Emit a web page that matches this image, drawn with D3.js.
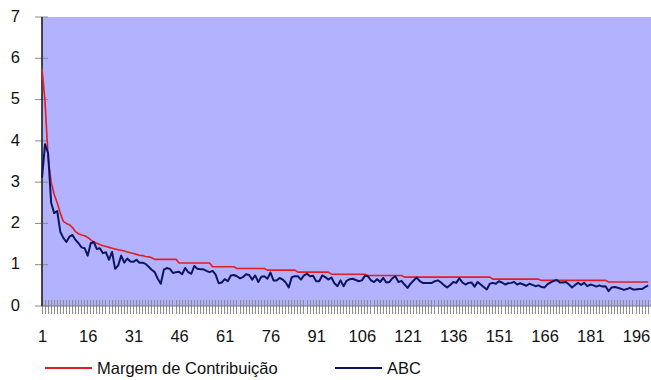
<!DOCTYPE html>
<html>
<head>
<meta charset="utf-8">
<script src="https://cdn.jsdelivr.net/npm/d3@7"></script>
<style>
  html, body { margin: 0; padding: 0; background: #ffffff; }
  svg { display: block; font-family: "Liberation Sans", Arial, sans-serif; }
</style>
</head>
<body>
<svg id="chart" width="651" height="380"></svg>
<script>
// Series names
const seriesNames = ["Margem de Contribuição", "ABC"];

// Margem de Contribuição (points 1..200)
const margem = [
  5.75, 4.95, 3.60, 3.00, 2.70, 2.50, 2.25, 2.05, 2.00, 1.97,
  1.90, 1.80, 1.75, 1.72, 1.70, 1.66, 1.60, 1.55, 1.52, 1.49,
  1.46, 1.44, 1.42, 1.40, 1.38, 1.36, 1.35, 1.33, 1.31, 1.29,
  1.27, 1.25, 1.23, 1.22, 1.20, 1.19, 1.17, 1.13, 1.13, 1.13,
  1.13, 1.13, 1.13, 1.13, 1.13, 1.04, 1.04, 1.04, 1.04, 1.04,
  1.04, 1.04, 1.04, 1.04, 1.04, 1.04, 0.95, 0.95, 0.95, 0.95,
  0.95, 0.95, 0.95, 0.95, 0.91, 0.91, 0.91, 0.91, 0.91, 0.91,
  0.91, 0.91, 0.91, 0.91, 0.87, 0.87, 0.87, 0.87, 0.87, 0.87,
  0.87, 0.87, 0.87, 0.87, 0.82, 0.82, 0.82, 0.82, 0.82, 0.82,
  0.82, 0.82, 0.82, 0.82, 0.82, 0.77, 0.77, 0.77, 0.77, 0.77,
  0.77, 0.77, 0.77, 0.77, 0.77, 0.77, 0.77, 0.74, 0.74, 0.74,
  0.74, 0.74, 0.74, 0.74, 0.74, 0.74, 0.74, 0.74, 0.74, 0.70,
  0.70, 0.70, 0.70, 0.70, 0.70, 0.70, 0.70, 0.70, 0.70, 0.70,
  0.70, 0.70, 0.70, 0.70, 0.70, 0.70, 0.70, 0.70, 0.70, 0.70,
  0.70, 0.70, 0.70, 0.70, 0.70, 0.70, 0.70, 0.70, 0.65, 0.65,
  0.65, 0.65, 0.65, 0.65, 0.65, 0.65, 0.65, 0.65, 0.65, 0.65,
  0.65, 0.65, 0.65, 0.65, 0.62, 0.62, 0.62, 0.62, 0.62, 0.62,
  0.62, 0.62, 0.62, 0.62, 0.62, 0.62, 0.62, 0.62, 0.62, 0.62,
  0.62, 0.62, 0.62, 0.62, 0.62, 0.62, 0.58, 0.58, 0.58, 0.58,
  0.58, 0.58, 0.58, 0.58, 0.58, 0.58, 0.58, 0.58, 0.58, 0.58
];

// ABC (points 1..200)
const abc = [
  3.10, 3.92, 3.70, 2.50, 2.25, 2.30, 1.80, 1.65, 1.55, 1.68,
  1.72, 1.60, 1.52, 1.42, 1.40, 1.22, 1.52, 1.55, 1.38, 1.40,
  1.28, 1.30, 1.12, 1.31, 0.90, 0.98, 1.22, 1.05, 1.15, 1.08,
  1.07, 1.12, 1.05, 1.05, 1.02, 0.95, 0.88, 0.82, 0.66, 0.54,
  0.88, 0.92, 0.90, 0.80, 0.82, 0.83, 0.77, 0.92, 0.82, 0.78,
  0.97, 0.90, 0.89, 0.89, 0.85, 0.82, 0.85, 0.76, 0.55, 0.57,
  0.65, 0.60, 0.74, 0.75, 0.72, 0.67, 0.70, 0.77, 0.75, 0.64,
  0.74, 0.58, 0.71, 0.72, 0.66, 0.81, 0.62, 0.62, 0.68, 0.64,
  0.57, 0.45, 0.70, 0.72, 0.72, 0.64, 0.74, 0.78, 0.72, 0.73,
  0.60, 0.60, 0.74, 0.70, 0.64, 0.69, 0.55, 0.48, 0.62, 0.48,
  0.61, 0.65, 0.66, 0.63, 0.60, 0.62, 0.73, 0.72, 0.62, 0.58,
  0.65, 0.58, 0.68, 0.57, 0.58, 0.67, 0.72, 0.58, 0.61, 0.52,
  0.44, 0.54, 0.62, 0.69, 0.60, 0.56, 0.56, 0.56, 0.56, 0.60,
  0.62, 0.57, 0.50, 0.45, 0.51, 0.58, 0.56, 0.67, 0.57, 0.52,
  0.56, 0.57, 0.47, 0.58, 0.52, 0.46, 0.40, 0.54, 0.56, 0.54,
  0.60, 0.57, 0.52, 0.55, 0.56, 0.58, 0.52, 0.55, 0.52, 0.49,
  0.54, 0.51, 0.48, 0.50, 0.46, 0.45, 0.53, 0.57, 0.61, 0.63,
  0.57, 0.57, 0.58, 0.52, 0.45, 0.51, 0.56, 0.51, 0.56, 0.48,
  0.52, 0.50, 0.47, 0.50, 0.47, 0.48, 0.36, 0.45, 0.46, 0.44,
  0.42, 0.39, 0.41, 0.44, 0.40, 0.40, 0.41, 0.41, 0.46, 0.50
];

// Axis tick labels
const xTickLabels = [1, 16, 31, 46, 61, 76, 91, 106, 121, 136, 151, 166, 181, 196];
const yTickLabels = [0, 1, 2, 3, 4, 5, 6, 7];

const seriesColors = ["#e31e24", "#0c1560"];

const svg = d3.select("#chart");
const plot = { left: 42, right: 651, top: 17, bottom: 306 };

const categories = d3.range(1, margem.length + 1);
const x = d3.scaleLinear().domain([1, 200]).range([42, 648.2]);
const y = d3.scaleLinear().domain([0, 7]).range([plot.bottom, plot.top]);

// plot area background
svg.append("rect")
  .attr("x", plot.left).attr("y", plot.top)
  .attr("width", plot.right - plot.left).attr("height", plot.bottom - plot.top)
  .attr("fill", "#b2b2ff");

// category tick marks (one per point, crossing the axis)
svg.append("g")
  .attr("shape-rendering", "crispEdges")
  .selectAll("line")
  .data(categories)
  .join("line")
  .attr("x1", d => x(d)).attr("x2", d => x(d))
  .attr("y1", plot.bottom - 6).attr("y2", plot.bottom + 8)
  .attr("stroke", "#8c8c8c")
  .attr("stroke-width", 1);

// x axis line and labels
const xAxis = d3.axisBottom(x).tickValues(xTickLabels).tickSize(0).tickPadding(24)
  .tickFormat(d3.format("d"));
const gx = svg.append("g").attr("transform", `translate(0,${plot.bottom})`).call(xAxis);
gx.select(".domain").remove();
gx.selectAll("text").attr("font-size", 16.5).attr("fill", "#111")
  .attr("font-family", "Liberation Sans, Arial, sans-serif");
svg.append("line")
  .attr("x1", plot.left).attr("x2", plot.right)
  .attr("y1", plot.bottom).attr("y2", plot.bottom)
  .attr("stroke", "#7a7a7a").attr("stroke-width", 1.2);

// y axis
const yAxis = d3.axisLeft(y).tickValues(yTickLabels).tickSize(0).tickPadding(22)
  .tickFormat(d3.format("d"));
const gy = svg.append("g").attr("transform", `translate(${plot.left},-1)`).call(yAxis);
gy.select(".domain").remove();
gy.selectAll("text").attr("font-size", 16.5).attr("fill", "#111")
  .attr("font-family", "Liberation Sans, Arial, sans-serif");
svg.append("g")
  .selectAll("line")
  .data(yTickLabels)
  .join("line")
  .attr("x1", plot.left - 7).attr("x2", plot.left + 6)
  .attr("y1", d => y(d)).attr("y2", d => y(d))
  .attr("stroke", "#8a8a8a").attr("stroke-width", 1);
svg.append("line")
  .attr("x1", plot.left).attr("x2", plot.left)
  .attr("y1", plot.top).attr("y2", plot.bottom)
  .attr("stroke", "#333").attr("stroke-width", 1.8);

// series lines
const line = d3.line().x((d, i) => x(i + 1)).y(d => y(d));
svg.append("path").datum(margem)
  .attr("d", line).attr("fill", "none")
  .attr("stroke", seriesColors[0]).attr("stroke-width", 1.6)
  .attr("stroke-linejoin", "round");
svg.append("path").datum(abc)
  .attr("d", line).attr("fill", "none")
  .attr("stroke", seriesColors[1]).attr("stroke-width", 2)
  .attr("stroke-linejoin", "round");

// legend
const legendItems = [
  { name: seriesNames[0], color: seriesColors[0], x: 45 },
  { name: seriesNames[1], color: seriesColors[1], x: 335 }
];
const lg = svg.append("g").selectAll("g").data(legendItems).join("g")
  .attr("transform", d => `translate(${d.x},368)`);
lg.append("line").attr("x1", 0).attr("x2", 47).attr("y1", 0).attr("y2", 0)
  .attr("stroke", d => d.color).attr("stroke-width", 2);
lg.append("text").attr("x", 52).attr("y", 6)
  .attr("font-size", 16.5).attr("fill", "#111")
  .text(d => d.name);
</script>
</body>
</html>
